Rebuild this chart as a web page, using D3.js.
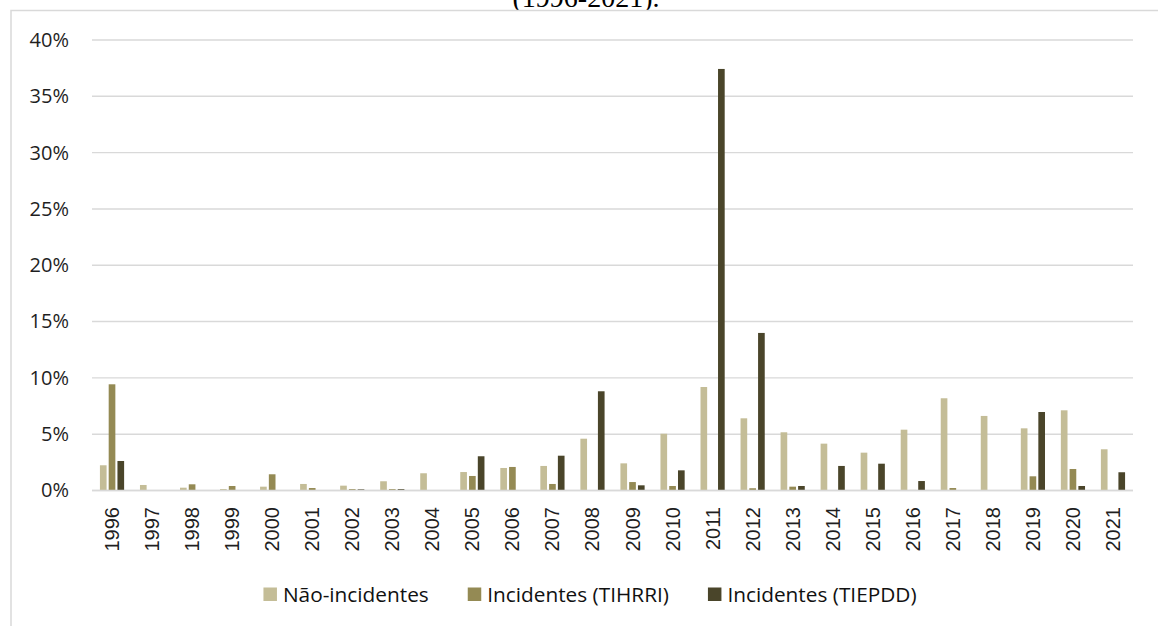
<!DOCTYPE html>
<html>
<head>
<meta charset="utf-8">
<script src="https://cdn.jsdelivr.net/npm/d3@7"></script>
<style>
  html, body { margin: 0; padding: 0; background: #fff; }
  svg { display: block; }
</style>
</head>
<body>
<svg id="chart" width="1158" height="626"></svg>
<script>
// Years on the category axis
const years = ["1996","1997","1998","1999","2000","2001","2002","2003","2004","2005","2006","2007","2008",
               "2009","2010","2011","2012","2013","2014","2015","2016","2017","2018","2019","2020","2021"];

// Series values, in percent
const naoIncidentes = [2.24, 0.49, 0.25, 0.13, 0.34, 0.58, 0.43, 0.82, 1.53, 1.64, 2.00, 2.18, 4.60,
                       2.41, 5.04, 9.19, 6.41, 5.17, 4.16, 3.36, 5.40, 8.19, 6.62, 5.52, 7.12, 3.66];
const incidentesTIHRRI = [9.43, 0, 0.55, 0.40, 1.44, 0.22, 0.12, 0.12, 0, 1.29, 2.09, 0.58, 0,
                          0.75, 0.40, 0, 0.20, 0.34, 0, 0, 0.05, 0.22, 0, 1.26, 1.91, 0];
const incidentesTIEPDD = [2.62, 0, 0, 0, 0, 0, 0.10, 0.12, 0, 3.04, 0, 3.09, 8.81,
                          0.46, 1.79, 37.43, 13.99, 0.40, 2.18, 2.38, 0.84, 0, 0, 6.97, 0.40, 1.62];

const seriesNames = ["Não-incidentes", "Incidentes (TIHRRI)", "Incidentes (TIEPDD)"];
const seriesValues = [naoIncidentes, incidentesTIHRRI, incidentesTIEPDD];
const yTicks = [0, 5, 10, 15, 20, 25, 30, 35, 40];

const colors = ["#c4bd97", "#948a54", "#4a452a"];

const svg = d3.select("#chart");

// Caption line above the chart frame
svg.append("text")
  .attr("x", 586).attr("y", 7)
  .attr("text-anchor", "middle")
  .style("font-family", "'Liberation Serif', 'Times New Roman', serif")
  .style("font-size", "28px")
  .attr("fill", "#000")
  .text("(1996-2021).");

// Chart frame
svg.append("rect")
  .attr("x", 11).attr("y", 10.5)
  .attr("width", 1200).attr("height", 700)
  .attr("fill", "#fff")
  .attr("stroke", "#d9d9d9")
  .attr("stroke-width", 1.5);

const plot = { left: 92, right: 1133, top: 40, bottom: 490.5 };

const x = d3.scaleBand().domain(years).range([plot.left, plot.right]).paddingInner(0).paddingOuter(0);
const xs = d3.scaleBand().domain(seriesNames).range([-13.15, 13.15]).paddingInner(0.24).paddingOuter(0.12);
const y = d3.scaleLinear().domain([0, 40]).range([plot.bottom, plot.top]);

// Horizontal gridlines
svg.append("g")
  .selectAll("line")
  .data(yTicks)
  .join("line")
  .attr("x1", plot.left).attr("x2", plot.right)
  .attr("y1", d => y(d)).attr("y2", d => y(d))
  .attr("stroke", "#d9d9d9")
  .attr("stroke-width", 1.4);

// Y axis labels
const yAxis = d3.axisLeft(y).tickValues(yTicks).tickFormat(d => d + "%").tickSize(0).tickPadding(0);
svg.append("g")
  .attr("transform", `translate(69,0)`)
  .call(yAxis)
  .call(g => g.select(".domain").remove())
  .call(g => g.selectAll("text")
    .style("font-family", "'Open Sans', 'Liberation Sans', sans-serif")
    .style("font-size", "20px")
    .attr("fill", "#1f1f1f"));

// Bars
const groups = svg.append("g")
  .selectAll("g")
  .data(seriesNames.map((name, i) => ({ name, i, values: seriesValues[i] })))
  .join("g")
  .attr("fill", d => colors[d.i]);

groups.selectAll("rect")
  .data(d => d.values.map((v, j) => ({ name: d.name, year: years[j], v })))
  .join("rect")
  .attr("x", d => x(d.year) + x.bandwidth() / 2 + xs(d.name))
  .attr("width", xs.bandwidth())
  .attr("y", d => y(d.v))
  .attr("height", d => y(0) - y(d.v));

// Baseline
svg.append("line")
  .attr("x1", plot.left).attr("x2", plot.right)
  .attr("y1", y(0)).attr("y2", y(0))
  .attr("stroke", "#d9d9d9")
  .attr("stroke-width", 1.4);

// X axis labels, rotated
const xAxis = d3.axisBottom(x).tickSize(0).tickPadding(0);
svg.append("g")
  .attr("transform", `translate(0,${plot.bottom})`)
  .call(xAxis)
  .call(g => g.select(".domain").remove())
  .call(g => g.selectAll("text")
    .attr("transform", "translate(0,16.5) rotate(-90)")
    .attr("x", 0).attr("y", 0).attr("dy", "0.35em")
    .attr("text-anchor", "end")
    .style("font-family", "'Liberation Sans', Arial, sans-serif")
    .style("font-size", "20px")
    .attr("fill", "#1f1f1f"));

// Legend
const legend = svg.append("g");
const legendFont = "'Open Sans', 'Liberation Sans', sans-serif";
const items = [];
seriesNames.forEach((name, i) => {
  const g = legend.append("g");
  g.append("rect").attr("x", 0).attr("y", -7).attr("width", 13.5).attr("height", 13.5).attr("fill", colors[i]);
  const t = g.append("text")
    .attr("x", 19.5).attr("y", 0).attr("dy", "0.35em")
    .style("font-family", legendFont)
    .style("font-size", "20.8px")
    .attr("fill", "#111")
    .text(name);
  const w = 19.5 + t.node().getComputedTextLength();
  items.push({ g, w });
});
const gap = 39;
const total = d3.sum(items, d => d.w) + gap * (items.length - 1);
let start = 590 - total / 2;
items.forEach(it => {
  it.g.attr("transform", `translate(${start},594.5)`);
  start += it.w + gap;
});
</script>
</body>
</html>
